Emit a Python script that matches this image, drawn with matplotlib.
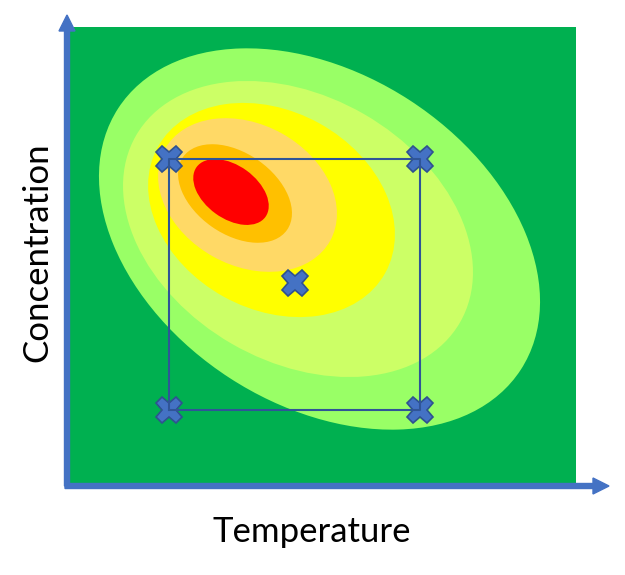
import matplotlib
matplotlib.use("Agg")
import matplotlib.pyplot as plt
from matplotlib.patches import Ellipse

# response surface contours (outer -> inner), plot-area units
contour_x = [250.5, 229, 202.5, 178.5, 166, 162]
contour_y = [244, 254, 273, 288, 289.5, 291]
contour_w = [480, 374, 260, 189, 127, 85]
contour_h = [331, 265, 198, 141, 81, 53]
contour_ang = [-33, -30, -29, -29, -35, -36]
contour_colors = ["#99FF66", "#CCFF66", "#FFFF00", "#FFD966", "#FFC000", "#FF0000"]

# 2^2 factorial design + centre point
temp_levels = [100, 351]
conc_levels = [73, 324]
centre_point = (226, 200)

XMAX, YMAX = 507, 456
W, H = 625, 575

fig = plt.figure(figsize=(6.25, 5.75), dpi=100)
ax = fig.add_axes([69 / W, 92 / H, 507 / W, 456 / H])
ax.set_xlim(0, XMAX)
ax.set_ylim(0, YMAX)
ax.set_facecolor("#00B050")
for s in ax.spines.values():
    s.set_visible(False)
ax.set_xticks([])
ax.set_yticks([])

for cx, cy, w, h, a, c in zip(contour_x, contour_y, contour_w, contour_h,
                              contour_ang, contour_colors):
    ax.add_patch(Ellipse((cx, cy), w, h, angle=a, facecolor=c, edgecolor="none"))

# design square
t0, t1 = temp_levels
c0, c1 = conc_levels
ax.plot([t0, t1, t1, t0, t0], [c0, c0, c1, c1, c0], color="#2F5597", lw=1.5, zorder=5)

pts_x = [t0, t1, t0, t1, centre_point[0]]
pts_y = [c1, c1, c0, c0, centre_point[1]]
ax.plot(pts_x, pts_y, linestyle="none", marker="X", ms=19, mfc="#4472C4",
        mec="#2F528F", mew=1.2, zorder=4)

# axis arrows
arrow_kw = dict(width=5, head_width=16, head_length=16, length_includes_head=True,
                color="#4472C4", clip_on=False, zorder=6)
ax.arrow(-2, -3, 0, 471, **arrow_kw)
ax.arrow(-4, -3, 544, 0, **arrow_kw)

# axis titles (baseline-anchored)
font = ["Lato", "DejaVu Sans"]
fig.text(312 / W, 1 - 542 / H, "Temperature", fontsize=25, family=font,
         ha="center", va="baseline")
fig.text(47 / W, 1 - 252 / H, "Concentration", fontsize=25, family=font,
         ha="center", va="baseline", rotation=90, rotation_mode="anchor")

fig.savefig("out.png", dpi=100)
